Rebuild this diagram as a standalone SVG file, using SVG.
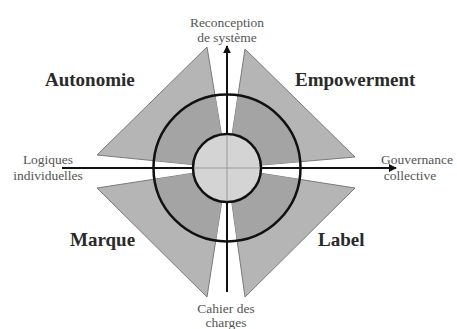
<svg xmlns="http://www.w3.org/2000/svg" width="457" height="329" viewBox="0 0 457 329">
<defs>
<marker id="arr" viewBox="0 0 10 10" refX="9" refY="5" markerWidth="4" markerHeight="4" orient="auto" markerUnits="strokeWidth">
<path d="M0,0 L10,5 L0,10 z" fill="#111"/>
</marker>
<clipPath id="ring"><circle cx="227" cy="168" r="73.5"/></clipPath>
</defs>
<style>
.w{fill:#b5b5b5;stroke:#7a7a7a;stroke-width:1}
.wi{fill:#a4a4a4;stroke:none}
.s{font-size:13.5px;fill:#555;text-anchor:middle}
.b{font-size:19px;font-weight:bold;fill:#2a2a2a}
.ax{stroke:#111;stroke-width:2;fill:none}
</style>
<rect width="457" height="329" fill="#fff"/>
<g id="autonomie">
<polygon class="w" points="227,168 207,47 97,155"/>
<polygon class="wi" points="227,168 207,47 97,155" clip-path="url(#ring)"/>
<text class="b" font-family="Liberation Serif, DejaVu Serif, serif" x="45" y="86">Autonomie</text>
</g>
<g id="empowerment">
<polygon class="w" points="227,168 245,49 355,157"/>
<polygon class="wi" points="227,168 245,49 355,157" clip-path="url(#ring)"/>
<text class="b" font-family="Liberation Serif, DejaVu Serif, serif" x="295" y="86">Empowerment</text>
</g>
<g id="marque">
<polygon class="w" points="227,168 97,188 207,297"/>
<polygon class="wi" points="227,168 97,188 207,297" clip-path="url(#ring)"/>
<text class="b" font-family="Liberation Serif, DejaVu Serif, serif" x="70" y="246">Marque</text>
</g>
<g id="label">
<polygon class="w" points="227,168 355,188 245,297"/>
<polygon class="wi" points="227,168 355,188 245,297" clip-path="url(#ring)"/>
<text class="b" font-family="Liberation Serif, DejaVu Serif, serif" x="318" y="246">Label</text>
</g>
<g id="connectors">
<line class="ax" x1="62" y1="168" x2="396" y2="168" marker-end="url(#arr)"/>
<line class="ax" x1="227" y1="292" x2="227" y2="46" marker-end="url(#arr)"/>
</g>
<g id="outer-circle">
<circle cx="227" cy="168" r="73.5" fill="none" stroke="#111" stroke-width="2.5"/>
</g>
<g id="inner-circle">
<circle cx="227" cy="168" r="34" fill="#d4d4d4" stroke="#111" stroke-width="2.5"/>
<line x1="194" y1="168" x2="260" y2="168" stroke="#9a9a9a" stroke-width="1"/>
<line x1="227" y1="135" x2="227" y2="201" stroke="#9a9a9a" stroke-width="1"/>
</g>
<g id="labels" font-family="Liberation Serif, DejaVu Serif, serif">
<text class="s" x="227" y="27">Reconception</text>
<text class="s" x="227" y="42">de système</text>
<text class="s" x="48" y="164">Logiques</text>
<text class="s" x="48" y="180">individuelles</text>
<text class="s" x="417" y="164">Gouvernance</text>
<text class="s" x="410" y="180">collective</text>
<text class="s" x="226" y="313">Cahier des</text>
<text class="s" x="226" y="327">charges</text>
</g>
</svg>
